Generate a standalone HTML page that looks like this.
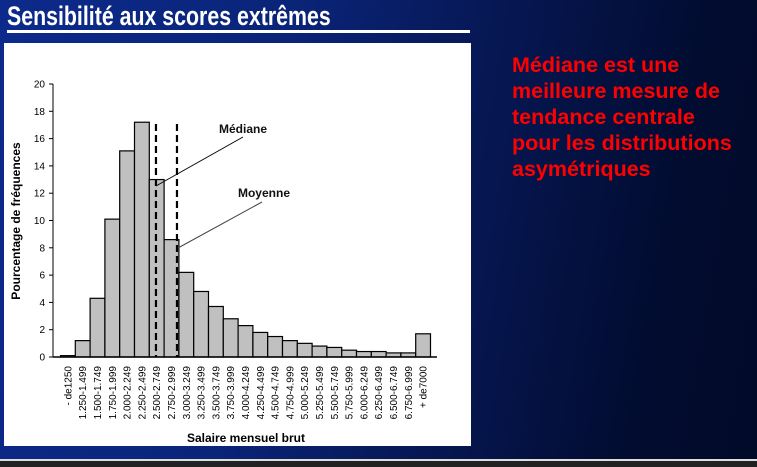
<!DOCTYPE html>
<html><head><meta charset="utf-8"><style>
body{margin:0;width:757px;height:467px;overflow:hidden;position:relative;font-family:"Liberation Sans",sans-serif;
background:linear-gradient(100deg,#0c2a8c 0%,#0a2478 35%,#061650 62%,#020c30 85%,#010a28 100%);}
#title{position:absolute;left:7px;top:0px;color:#fff;font-weight:bold;font-size:27px;line-height:32px;white-space:nowrap;transform:scaleX(0.79);transform-origin:0 0}
#uline{position:absolute;left:7px;top:30px;width:463px;height:3px;background:#fff}
#panel{position:absolute;left:4px;top:43px;width:467px;height:403px;background:#fff}
#note{position:absolute;left:512px;top:52px;color:#f00;font-weight:bold;font-size:21.5px;line-height:26px}
#bot1{position:absolute;left:0;top:459px;width:757px;height:2px;background:#ddd}
#bot2{position:absolute;left:0;top:461px;width:757px;height:6px;background:#222}
</style></head><body>
<div id="title">Sensibilité aux scores extrêmes</div>
<div id="uline"></div>
<div id="panel"></div>
<div id="note">Médiane est une<br>meilleure mesure de<br>tendance centrale<br>pour les distributions<br>asymétriques</div>
<div id="bot1"></div>
<div id="bot2"></div>
<svg id="chart" width="757" height="467" style="position:absolute;left:0;top:0" xmlns="http://www.w3.org/2000/svg"></svg>
<script>
const categories=["- de1250","1.250-1.499","1.500-1.749","1.750-1.999","2.000-2.249","2.250-2.499","2.500-2.749","2.750-2.999","3.000-3.249","3.250-3.499","3.500-3.749","3.750-3.999","4.000-4.249","4.250-4.499","4.500-4.749","4.750-4.999","5.000-5.249","5.250-5.499","5.500-5.749","5.750-5.999","6.000-6.249","6.250-6.499","6.500-6.749","6.750-6.999","+ de7000"];
const values=[0.1,1.2,4.3,10.1,15.1,17.2,13.0,8.6,6.2,4.8,3.7,2.8,2.3,1.8,1.5,1.2,1.0,0.8,0.7,0.5,0.4,0.4,0.3,0.3,1.7];
const yTicks=[0,2,4,6,8,10,12,14,16,18,20];
const medianPos=6.45;
const meanPos=7.87;
const svg=document.getElementById('chart');
const NS='http://www.w3.org/2000/svg';
const x0=60.5,bw=14.8,y0=357,yTop=84,yMax=20;
const ys=v=>y0-(y0-yTop)*v/yMax;
const xs=i=>x0+bw*i;
function mk(t,a){const e=document.createElementNS(NS,t);for(const k in a)e.setAttribute(k,a[k]);svg.appendChild(e);return e;}
let ax=mk('line',{x1:53,y1:yTop,x2:53,y2:y0,stroke:'#000','stroke-width':1});


yTicks.forEach(t=>{
 const l=mk('line',{x1:49,x2:53,y1:ys(t),y2:ys(t),stroke:'#000'});
 
 
 const tx=mk('text',{x:45,y:ys(t)+3.5,'text-anchor':'end','font-size':10,fill:'#000','font-family':'Liberation Sans, sans-serif'});
 tx.textContent=t;
 
 
});
values.forEach((v,i)=>{
 const r=mk('rect',{x:xs(i),y:ys(v),width:bw,height:y0-ys(v),fill:'#c0c0c0',stroke:'#000','stroke-width':1.2});
 
 
 const cx=xs(i)+bw/2+3.5;
 const t=mk('text',{x:0,y:0,transform:`translate(${cx},366) rotate(-90)`,'text-anchor':'end','font-size':10,fill:'#000','font-family':'Liberation Sans, sans-serif'});
 t.textContent=categories[i];
 
 
});
let xa=mk('line',{x1:53,y1:y0,x2:437,y2:y0,stroke:'#000','stroke-width':1.5});


const mx=x0+bw*medianPos, mnx=x0+bw*meanPos;
let md=mk('line',{x1:mx,y1:124,x2:mx,y2:y0,stroke:'#000','stroke-width':2.2,'stroke-dasharray':'7,4'});


let mn=mk('line',{x1:mnx,y1:124,x2:mnx,y2:y0,stroke:'#000','stroke-width':2.2,'stroke-dasharray':'7,4'});


let l1=mk('line',{x1:mx,y1:186,x2:243,y2:137,stroke:'#000','stroke-width':1});


let l2=mk('line',{x1:mnx+1,y1:248,x2:262,y2:202,stroke:'#444','stroke-width':1});


let t1=mk('text',{x:243,y:133,'text-anchor':'middle','font-size':12,'font-weight':'bold',fill:'#111','font-family':'Liberation Sans, sans-serif'});
t1.textContent='Médiane';


let t2=mk('text',{x:264,y:197,'text-anchor':'middle','font-size':12,'font-weight':'bold',fill:'#111','font-family':'Liberation Sans, sans-serif'});
t2.textContent='Moyenne';


let yt=mk('text',{x:0,y:0,transform:'translate(20,221) rotate(-90)','text-anchor':'middle','font-size':12,'font-weight':'bold',fill:'#000','font-family':'Liberation Sans, sans-serif'});
yt.textContent='Pourcentage de fréquences';


let xt=mk('text',{x:246,y:442,'text-anchor':'middle','font-size':12,'font-weight':'bold',fill:'#000','font-family':'Liberation Sans, sans-serif'});
xt.textContent='Salaire mensuel brut';


</script>
</body></html>
